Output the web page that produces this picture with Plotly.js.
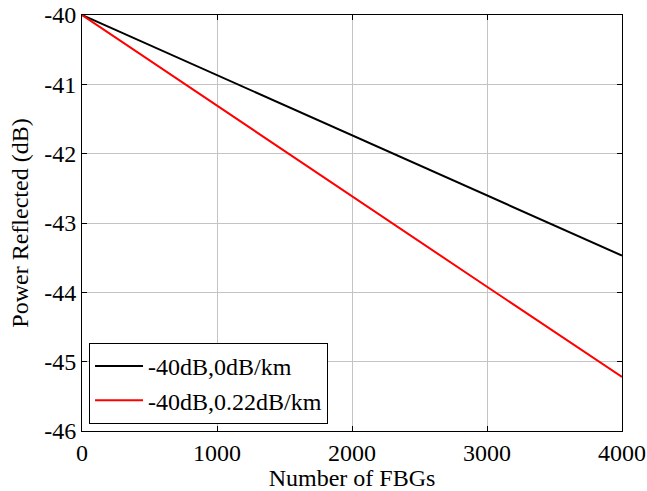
<!DOCTYPE html>
<html><head><meta charset="utf-8">
<script src="https://cdn.plot.ly/plotly-3.0.1.min.js"></script>
<style>html,body{margin:0;padding:0;background:#fff}</style>
</head><body>
<div id="chart" style="width:647px;height:491px"></div>
<script>
const fbgCount = [0, 1000, 2000, 3000, 4000];
const reflectedNoLoss = [-40, -40.87, -41.74, -42.61, -43.47];
const reflectedLoss = [-40, -41.31, -42.61, -43.92, -45.22];
const seriesNames = ['-40dB,0dB/km', '-40dB,0.22dB/km'];
const xTicks = [0, 1000, 2000, 3000, 4000];
const yTicks = [-46, -45, -44, -43, -42, -41, -40];

const fontFam = '"Liberation Serif", "Times New Roman", serif';
const axisCommon = {
  showline: true, linecolor: '#000', linewidth: 1, mirror: 'ticks',
  ticks: 'inside', ticklen: 5, tickcolor: '#000',
  showgrid: true, gridcolor: '#c4c4c4', gridwidth: 1,
  zeroline: false, tickfont: {family: fontFam, size: 24, color: '#000'}
};
const traces = [
  {x: fbgCount, y: reflectedNoLoss, name: seriesNames[0], mode: 'lines', line: {color: '#000', width: 2}},
  {x: fbgCount, y: reflectedLoss, name: seriesNames[1], mode: 'lines', line: {color: '#ff0000', width: 2}}
];
const layout = {
  width: 647, height: 491,
  margin: {l: 82, r: 25, t: 15, b: 60},
  paper_bgcolor: '#fff', plot_bgcolor: '#fff',
  font: {family: fontFam, size: 24, color: '#000'},
  xaxis: Object.assign({}, axisCommon, {range: [0, 4000], tickvals: xTicks, ticktext: xTicks.map(String),
    title: {text: 'Number of FBGs', font: {family: fontFam, size: 24}, standoff: 0}}),
  yaxis: Object.assign({}, axisCommon, {range: [-46, -40], tickvals: yTicks, ticktext: yTicks.map(String),
    title: {text: 'Power Reflected (dB)', font: {family: fontFam, size: 24}, standoff: 8}}),
  showlegend: true,
  legend: {x: 0.013, y: 0.017, xanchor: 'left', yanchor: 'bottom', bgcolor: '#fff',
    bordercolor: '#000', borderwidth: 1, font: {family: fontFam, size: 24, color: '#000'},
    itemwidth: 48, tracegroupgap: 0}
};
Plotly.newPlot('chart', traces, layout, {displayModeBar: false, staticPlot: true});
</script>
</body></html>
